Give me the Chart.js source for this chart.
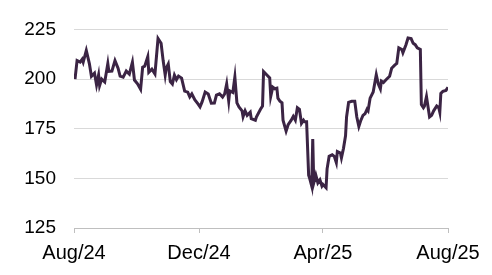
<!DOCTYPE html>
<html>
<head>
<meta charset="utf-8">
<script src="https://cdn.jsdelivr.net/npm/chart.js@4"></script>
<style>
  html, body { margin: 0; padding: 0; background: #fff; }
  #wrap { width: 492px; height: 275px; }
</style>
</head>
<body>
<div id="wrap"><canvas id="myChart"></canvas></div>
<script>
// days since 1 Aug 2024
const days = [1,3,6,8,9,12,15,17,20,22,24,25,27,30,33,34,37,40,43,45,48,51,54,57,59,62,65,67,69,72,73,76,79,82,85,87,89,90,92,94,96,98,100,102,105,108,111,113,115,118,121,123,125,128,131,134,137,139,142,145,147,149,151,152,155,157,159,161,164,165,167,169,172,173,177,178,182,184,185,188,191,192,194,196,198,199,201,203,204,207,209,212,214,216,218,220,222,224,225,227,229,230,232,233,234,236,238,240,242,243,246,247,249,252,254,256,257,260,261,263,265,266,268,271,274,276,278,280,282,284,286,287,289,292,295,297,299,300,302,305,308,310,313,315,317,320,321,324,326,329,331,333,335,338,339,341,342,344,347,349,351,354,356,357,358,360,363,365];
const price = [200,209.3,208.5,210,208.5,214.4,207.8,201.4,203,197,202,196.7,200,198.5,207.8,203.9,204,209.3,205.5,201.5,201,204,202.5,208.5,199.5,197.6,194.8,206,206.5,211.3,203.4,205,202.6,220.4,218,209.3,202,205.5,207.6,198.7,197.5,202,199.7,201.5,200.5,193.9,193.4,191,192.5,189.5,187.5,186,188.5,193.5,192.5,187.8,187.9,191.9,192.6,190.9,192.5,197.6,189,194,193.2,201,188,186,184,181,184,181.7,183.3,180.1,179.3,180.9,184.8,186.4,203.8,202.2,200.6,191.2,195.9,195.1,195.4,190.4,188.8,188,179.3,173.8,177,179.3,181.2,179.3,185.6,184.8,177.7,179.3,178.5,178.5,151.6,150,146.1,169.8,147.7,151.6,147.7,149.2,146.1,146.9,145.3,154.8,161.1,161.9,161.1,157.9,163.5,162.7,160.3,165.1,171.4,180.9,188.3,188.8,188.8,180.9,176.1,179.3,181.7,182.5,184.8,184.1,190.4,193.5,202.2,197.5,195.1,199,198.3,199.9,201.4,205.4,207,207.8,215.7,214.9,213.3,217.3,220.7,220.4,218,217.3,215.7,214.9,187.2,185.6,186.4,191.2,180.9,181.7,184,186.4,185.6,183.3,192.8,193.8,194.3,195.9];

const tickDays = [0, 122, 243, 365];
const tickLabels = ['Aug/24', 'Dec/24', 'Apr/25', 'Aug/25'];
const yTicks = [125, 150, 175, 200, 225];

const points = days.map((d, i) => ({x: d, y: price[i]}));

const fam = "'Liberation Sans', Arial, sans-serif";

const config = {
  type: 'line',
  data: {
    datasets: [{
      data: points,
      borderColor: '#3b2444',
      borderWidth: 3,
      pointRadius: 0,
      tension: 0,
      fill: false
    }]
  },
  options: {
    responsive: true,
    maintainAspectRatio: false,
    animation: false,
    layout: {padding: {top: 17, right: 44, left: 0, bottom: 0}},
    plugins: {legend: {display: false}, tooltip: {enabled: false}},
    scales: {
      x: {
        type: 'linear',
        min: tickDays[0],
        max: tickDays[tickDays.length - 1],
        afterBuildTicks: s => { s.ticks = tickDays.map(v => ({value: v})); },
        afterFit: s => { s.height = 47; },
        ticks: {
          color: '#000',
          font: {family: fam, size: 20},
          padding: 8,
          maxRotation: 0,
          autoSkip: false,
          callback: v => tickLabels[tickDays.indexOf(v)]
        },
        grid: {drawOnChartArea: false, drawTicks: true, tickLength: 5, color: '#bfbfbf'},
        border: {color: '#bfbfbf', width: 1}
      },
      y: {
        min: yTicks[0],
        max: yTicks[yTicks.length - 1],
        afterBuildTicks: s => { s.ticks = yTicks.map(v => ({value: v})); },
        afterFit: s => { s.width = 74; },
        ticks: {color: '#000', font: {family: fam, size: 19}, padding: 18},
        grid: {color: '#d9d9d9', drawTicks: false},
        border: {display: false}
      }
    }
  }
};

new Chart(document.getElementById('myChart'), config);
</script>
</body>
</html>
